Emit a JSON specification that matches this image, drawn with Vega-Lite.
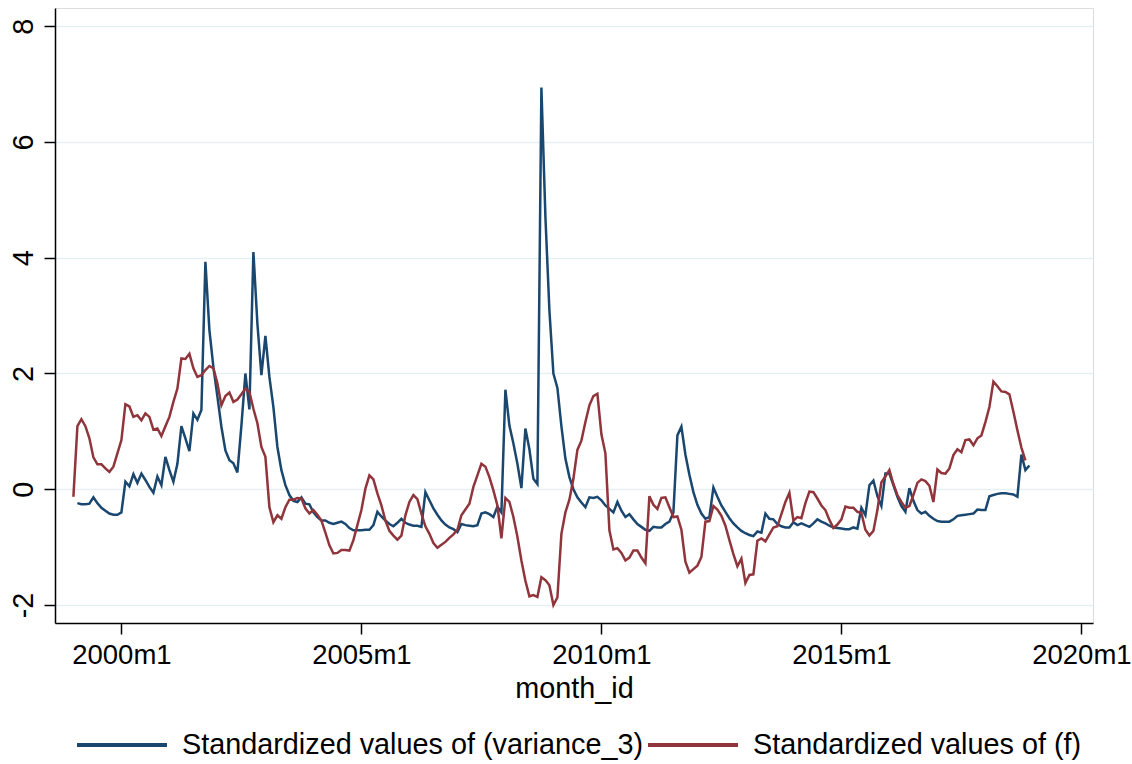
{
"$schema": "https://vega.github.io/schema/vega-lite/v6.json",
"width": 1038,
"height": 615,
"autosize": {"type": "none"},
"padding": {"left": 55, "top": 8, "right": 39, "bottom": 141},
"background": "white",
"config": {
  "font": "Liberation Sans",
  "view": {"stroke": "#dcdcdc", "strokeWidth": 1},
  "axis": {"domainColor": "black", "domainWidth": 1.5, "tickColor": "black", "tickWidth": 1.5, "tickSize": 11, "labelFontSize": 27.5, "labelColor": "black", "titleColor": "black", "titleFontSize": 28.8, "titleFontWeight": "normal", "labelFont": "Liberation Sans", "titleFont": "Liberation Sans"}
},
"data": {"values": [
{"t":468,"f":-0.13},
{"t":469,"v":-0.24,"f":1.09},
{"t":470,"v":-0.26,"f":1.21},
{"t":471,"v":-0.26,"f":1.09},
{"t":472,"v":-0.25,"f":0.88},
{"t":473,"v":-0.14,"f":0.55},
{"t":474,"v":-0.24,"f":0.43},
{"t":475,"v":-0.32,"f":0.43},
{"t":476,"v":-0.37,"f":0.36},
{"t":477,"v":-0.42,"f":0.30},
{"t":478,"v":-0.44,"f":0.39},
{"t":479,"v":-0.44,"f":0.62},
{"t":480,"v":-0.40,"f":0.85},
{"t":481,"v":0.13,"f":1.47},
{"t":482,"v":0.05,"f":1.43},
{"t":483,"v":0.26,"f":1.25},
{"t":484,"v":0.11,"f":1.28},
{"t":485,"v":0.27,"f":1.19},
{"t":486,"v":0.16,"f":1.31},
{"t":487,"v":0.04,"f":1.25},
{"t":488,"v":-0.06,"f":1.03},
{"t":489,"v":0.22,"f":1.05},
{"t":490,"v":0.07,"f":0.92},
{"t":491,"v":0.56,"f":1.09},
{"t":492,"v":0.33,"f":1.25},
{"t":493,"v":0.13,"f":1.51},
{"t":494,"v":0.44,"f":1.74},
{"t":495,"v":1.09,"f":2.26},
{"t":496,"v":0.88,"f":2.25},
{"t":497,"v":0.66,"f":2.34},
{"t":498,"v":1.31,"f":2.09},
{"t":499,"v":1.20,"f":1.94},
{"t":500,"v":1.37,"f":1.97},
{"t":501,"v":3.93,"f":2.06},
{"t":502,"v":2.75,"f":2.13},
{"t":503,"v":2.11,"f":2.09},
{"t":504,"v":1.60,"f":1.83},
{"t":505,"v":1.08,"f":1.45},
{"t":506,"v":0.67,"f":1.61},
{"t":507,"v":0.50,"f":1.67},
{"t":508,"v":0.45,"f":1.51},
{"t":509,"v":0.29,"f":1.55},
{"t":510,"v":1.10,"f":1.64},
{"t":511,"v":2.00,"f":1.74},
{"t":512,"v":1.38,"f":1.68},
{"t":513,"v":4.10,"f":1.39},
{"t":514,"v":2.86,"f":1.14},
{"t":515,"v":1.97,"f":0.73},
{"t":516,"v":2.65,"f":0.56},
{"t":517,"v":1.94,"f":-0.31},
{"t":518,"v":1.42,"f":-0.57},
{"t":519,"v":0.73,"f":-0.45},
{"t":520,"v":0.33,"f":-0.51},
{"t":521,"v":0.07,"f":-0.31},
{"t":522,"v":-0.10,"f":-0.18},
{"t":523,"v":-0.20,"f":-0.18},
{"t":524,"v":-0.22,"f":-0.15},
{"t":525,"v":-0.14,"f":-0.16},
{"t":526,"v":-0.25,"f":-0.33},
{"t":527,"v":-0.26,"f":-0.42},
{"t":528,"v":-0.40,"f":-0.36},
{"t":529,"v":-0.48,"f":-0.44},
{"t":530,"v":-0.54,"f":-0.54},
{"t":531,"v":-0.54,"f":-0.75},
{"t":532,"v":-0.58,"f":-0.97},
{"t":533,"v":-0.60,"f":-1.11},
{"t":534,"v":-0.58,"f":-1.10},
{"t":535,"v":-0.56,"f":-1.05},
{"t":536,"v":-0.60,"f":-1.05},
{"t":537,"v":-0.67,"f":-1.06},
{"t":538,"v":-0.71,"f":-0.88},
{"t":539,"v":-0.71,"f":-0.62},
{"t":540,"v":-0.71,"f":-0.36},
{"t":541,"v":-0.70,"f":0.01},
{"t":542,"v":-0.70,"f":0.24},
{"t":543,"v":-0.62,"f":0.17},
{"t":544,"v":-0.39,"f":-0.07},
{"t":545,"v":-0.47,"f":-0.28},
{"t":546,"v":-0.54,"f":-0.54},
{"t":547,"v":-0.60,"f":-0.72},
{"t":548,"v":-0.64,"f":-0.80},
{"t":549,"v":-0.58,"f":-0.87},
{"t":550,"v":-0.51,"f":-0.80},
{"t":551,"v":-0.58,"f":-0.45},
{"t":552,"v":-0.61,"f":-0.22},
{"t":553,"v":-0.63,"f":-0.10},
{"t":554,"v":-0.63,"f":-0.17},
{"t":555,"v":-0.65,"f":-0.42},
{"t":556,"v":-0.05,"f":-0.64},
{"t":557,"v":-0.19,"f":-0.77},
{"t":558,"v":-0.33,"f":-0.93},
{"t":559,"v":-0.44,"f":-1.01},
{"t":560,"v":-0.54,"f":-0.96},
{"t":561,"v":-0.61,"f":-0.91},
{"t":562,"v":-0.66,"f":-0.84},
{"t":563,"v":-0.69,"f":-0.78},
{"t":564,"v":-0.74,"f":-0.70},
{"t":565,"v":-0.60,"f":-0.45},
{"t":566,"v":-0.62,"f":-0.35},
{"t":567,"v":-0.63,"f":-0.25},
{"t":568,"v":-0.64,"f":0.04},
{"t":569,"v":-0.62,"f":0.24},
{"t":570,"v":-0.42,"f":0.44},
{"t":571,"v":-0.40,"f":0.39},
{"t":572,"v":-0.43,"f":0.21},
{"t":573,"v":-0.48,"f":-0.02},
{"t":574,"v":-0.30,"f":-0.28},
{"t":575,"v":-0.40,"f":-0.85},
{"t":576,"v":1.72,"f":-0.15},
{"t":577,"v":1.10,"f":-0.22},
{"t":578,"v":0.79,"f":-0.48},
{"t":579,"v":0.44,"f":-0.82},
{"t":580,"v":0.02,"f":-1.23},
{"t":581,"v":1.05,"f":-1.58},
{"t":582,"v":0.69,"f":-1.85},
{"t":583,"v":0.18,"f":-1.83},
{"t":584,"v":0.09,"f":-1.86},
{"t":585,"v":6.94,"f":-1.52},
{"t":586,"v":4.71,"f":-1.57},
{"t":587,"v":3.09,"f":-1.66},
{"t":588,"v":2.00,"f":-2.00},
{"t":589,"v":1.75,"f":-1.87},
{"t":590,"v":1.09,"f":-0.77},
{"t":591,"v":0.53,"f":-0.40},
{"t":592,"v":0.21,"f":-0.18},
{"t":593,"v":0.00,"f":0.18},
{"t":594,"v":-0.14,"f":0.68},
{"t":595,"v":-0.23,"f":0.84},
{"t":596,"v":-0.31,"f":1.16},
{"t":597,"v":-0.14,"f":1.45},
{"t":598,"v":-0.15,"f":1.61},
{"t":599,"v":-0.13,"f":1.65},
{"t":600,"v":-0.19,"f":0.95},
{"t":601,"v":-0.28,"f":0.62},
{"t":602,"v":-0.34,"f":-0.71},
{"t":603,"v":-0.40,"f":-1.04},
{"t":604,"v":-0.22,"f":-1.02},
{"t":605,"v":-0.37,"f":-1.10},
{"t":606,"v":-0.48,"f":-1.23},
{"t":607,"v":-0.43,"f":-1.18},
{"t":608,"v":-0.52,"f":-1.06},
{"t":609,"v":-0.60,"f":-1.06},
{"t":610,"v":-0.65,"f":-1.18},
{"t":611,"v":-0.70,"f":-1.28},
{"t":612,"v":-0.72,"f":-0.12},
{"t":613,"v":-0.65,"f":-0.27},
{"t":614,"v":-0.66,"f":-0.34},
{"t":615,"v":-0.66,"f":-0.15},
{"t":616,"v":-0.60,"f":-0.14},
{"t":617,"v":-0.56,"f":-0.31},
{"t":618,"v":-0.40,"f":-0.48},
{"t":619,"v":0.93,"f":-0.47},
{"t":620,"v":1.08,"f":-0.70},
{"t":621,"v":0.60,"f":-1.25},
{"t":622,"v":0.25,"f":-1.44},
{"t":623,"v":-0.05,"f":-1.38},
{"t":624,"v":-0.27,"f":-1.32},
{"t":625,"v":-0.42,"f":-1.17},
{"t":626,"v":-0.51,"f":-0.56},
{"t":627,"v":-0.48,"f":-0.55},
{"t":628,"v":0.03,"f":-0.29},
{"t":629,"v":-0.13,"f":-0.35},
{"t":630,"v":-0.28,"f":-0.46},
{"t":631,"v":-0.39,"f":-0.63},
{"t":632,"v":-0.50,"f":-0.88},
{"t":633,"v":-0.59,"f":-1.12},
{"t":634,"v":-0.66,"f":-1.33},
{"t":635,"v":-0.72,"f":-1.20},
{"t":636,"v":-0.76,"f":-1.62},
{"t":637,"v":-0.79,"f":-1.48},
{"t":638,"v":-0.81,"f":-1.47},
{"t":639,"v":-0.73,"f":-0.89},
{"t":640,"v":-0.75,"f":-0.85},
{"t":641,"v":-0.42,"f":-0.90},
{"t":642,"v":-0.51,"f":-0.78},
{"t":643,"v":-0.52,"f":-0.66},
{"t":644,"v":-0.60,"f":-0.64},
{"t":645,"v":-0.64,"f":-0.43},
{"t":646,"v":-0.66,"f":-0.22},
{"t":647,"v":-0.66,"f":-0.06},
{"t":648,"v":-0.57,"f":-0.54},
{"t":649,"v":-0.62,"f":-0.48},
{"t":650,"v":-0.59,"f":-0.50},
{"t":651,"v":-0.62,"f":-0.24},
{"t":652,"v":-0.65,"f":-0.04},
{"t":653,"v":-0.59,"f":-0.05},
{"t":654,"v":-0.52,"f":-0.16},
{"t":655,"v":-0.56,"f":-0.28},
{"t":656,"v":-0.59,"f":-0.36},
{"t":657,"v":-0.63,"f":-0.53},
{"t":658,"v":-0.66,"f":-0.67},
{"t":659,"v":-0.67,"f":-0.61},
{"t":660,"v":-0.68,"f":-0.52},
{"t":661,"v":-0.69,"f":-0.30},
{"t":662,"v":-0.69,"f":-0.32},
{"t":663,"v":-0.66,"f":-0.32},
{"t":664,"v":-0.68,"f":-0.39},
{"t":665,"v":-0.32,"f":-0.41},
{"t":666,"v":-0.45,"f":-0.70},
{"t":667,"v":0.07,"f":-0.80},
{"t":668,"v":0.15,"f":-0.72},
{"t":669,"v":-0.12,"f":-0.36},
{"t":670,"v":-0.29,"f":0.12},
{"t":671,"v":0.27,"f":0.22},
{"t":672,"v":0.27,"f":0.33},
{"t":673,"v":0.07,"f":0.09},
{"t":674,"v":-0.13,"f":-0.10},
{"t":675,"v":-0.29,"f":-0.22},
{"t":676,"v":-0.39,"f":-0.32},
{"t":677,"v":0.02,"f":-0.29},
{"t":678,"v":-0.20,"f":-0.10},
{"t":679,"v":-0.36,"f":0.11},
{"t":680,"v":-0.42,"f":0.17},
{"t":681,"v":-0.39,"f":0.14},
{"t":682,"v":-0.46,"f":0.06},
{"t":683,"v":-0.51,"f":-0.22},
{"t":684,"v":-0.55,"f":0.34},
{"t":685,"v":-0.56,"f":0.28},
{"t":686,"v":-0.56,"f":0.27},
{"t":687,"v":-0.56,"f":0.36},
{"t":688,"v":-0.52,"f":0.59},
{"t":689,"v":-0.46,"f":0.69},
{"t":690,"v":-0.45,"f":0.64},
{"t":691,"v":-0.44,"f":0.85},
{"t":692,"v":-0.43,"f":0.86},
{"t":693,"v":-0.42,"f":0.76},
{"t":694,"v":-0.35,"f":0.88},
{"t":695,"v":-0.36,"f":0.93},
{"t":696,"v":-0.36,"f":1.16},
{"t":697,"v":-0.12,"f":1.42},
{"t":698,"v":-0.10,"f":1.86},
{"t":699,"v":-0.08,"f":1.78},
{"t":700,"v":-0.07,"f":1.69},
{"t":701,"v":-0.07,"f":1.68},
{"t":702,"v":-0.08,"f":1.64},
{"t":703,"v":-0.09,"f":1.34},
{"t":704,"v":-0.13,"f":1.02},
{"t":705,"v":0.60,"f":0.72},
{"t":706,"v":0.33,"f":0.50},
{"t":707,"v":0.41}
]},
"encoding": {
  "x": {"field": "t", "type": "quantitative",
        "scale": {"domain": [463.4, 722.9], "nice": false, "zero": false},
        "axis": {"title": "month_id", "values": [480, 540, 600, 660, 720], "labelExpr": "(floor(datum.value / 12) + 1960) + 'm1'", "grid": false, "labelPadding": 7, "titlePadding": 6, "labelFlush": false}}
},
"layer": [
  {"mark": {"type": "line", "strokeWidth": 2.5, "clip": true},
   "encoding": {
     "y": {"field": "v", "type": "quantitative",
           "scale": {"domain": [-2.311, 8.315], "nice": false, "zero": false},
           "axis": {"title": null, "values": [-2, 0, 2, 4, 6, 8], "labelExpr": "'' + datum.value", "labelAngle": -90, "labelAlign": "center", "labelBaseline": "bottom", "labelPadding": 6, "labelFontSize": 28.8, "grid": true, "gridColor": "#e6eff1", "gridWidth": 1.5}},
     "color": {"datum": "Standardized values of (variance_3)", "type": "nominal",
       "scale": {"domain": ["Standardized values of (variance_3)", "Standardized values of (f)"], "range": ["#1a476f", "#90353b"]},
       "legend": {"title": null, "orient": "none", "direction": "horizontal", "legendX": 20, "legendY": 690, "symbolType": "stroke", "symbolSize": 8100, "symbolStrokeWidth": 4, "labelFontSize": 28.8, "labelColor": "black", "labelFont": "Liberation Sans", "labelOffset": 13, "columnPadding": -4, "padding": 0, "labelLimit": 1000}}
   }},
  {"mark": {"type": "line", "strokeWidth": 2.5, "clip": true},
   "encoding": {
     "y": {"field": "f", "type": "quantitative"},
     "color": {"datum": "Standardized values of (f)", "type": "nominal"}
   }}
]
}
